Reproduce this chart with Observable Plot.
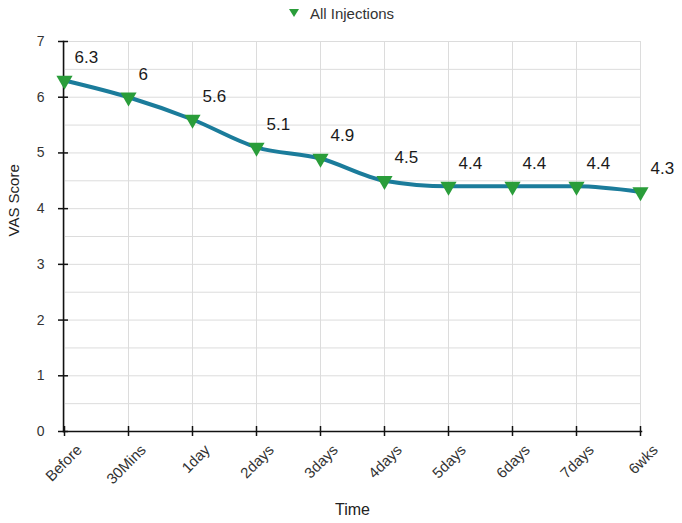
<!DOCTYPE html>
<html>
<head>
<meta charset="utf-8">
<script src="https://cdn.jsdelivr.net/npm/d3@7"></script>
<script src="https://cdn.jsdelivr.net/npm/@observablehq/plot@0.6"></script>
<style>
  body { margin: 0; background: #fff; font-family: "Liberation Sans", Arial, sans-serif; }
  #wrap { position: relative; width: 682px; height: 523px; }
  #legend { position: absolute; top: 4px; left: 0; width: 682px; text-align: center; font-size: 15px; color: #333; }
  #legend span { display: inline-flex; align-items: center; gap: 10px; }
</style>
</head>
<body>
<div id="wrap">
  <div id="legend"><span><svg width="12" height="10"><path d="M1,1 L11,1 L6,9 Z" fill="#2a9d3a"/></svg>All Injections</span></div>
  <div id="chart"></div>
</div>
<script>
const categories = ["Before", "30Mins", "1day", "2days", "3days", "4days", "5days", "6days", "7days", "6wks"];
const values = [6.3, 6.0, 5.6, 5.1, 4.9, 4.5, 4.4, 4.4, 4.4, 4.3];
const yTicks = [0, 1, 2, 3, 4, 5, 6, 7];
const yGrid = [0.5, 1, 1.5, 2, 2.5, 3, 3.5, 4, 4.5, 5, 5.5, 6, 6.5, 7];
const seriesName = "All Injections";

const data = categories.map((c, i) => ({time: c, score: values[i], series: seriesName}));

const chart = Plot.plot({
  width: 682,
  height: 523,
  marginLeft: 63,
  marginRight: 41,
  marginTop: 41,
  marginBottom: 92,
  style: {fontFamily: "Liberation Sans, Arial, sans-serif", fontSize: "14px", color: "#333", background: "#fff"},
  x: {type: "point", domain: categories, padding: 0},
  y: {domain: [0, 7]},
  marks: [
    Plot.gridY(yGrid, {stroke: "#dcdcdc", strokeOpacity: 1}),
    Plot.gridX(categories, {stroke: "#dcdcdc", strokeOpacity: 1}),
    Plot.frame({anchor: "left", stroke: "#111", strokeWidth: 1.5}),
    Plot.frame({anchor: "bottom", stroke: "#111", strokeWidth: 1.5}),
    Plot.axisY(yTicks, {tickSize: 5, tickPadding: 14, tickFormat: d3.format("d"), label: null, stroke: "#111", strokeWidth: 1.5, fontSize: 14, fill: "#333"}),
    Plot.axisY(yTicks, {tickSize: 5, text: null, label: null, dx: 5, stroke: "#111", strokeWidth: 1.5}),
    Plot.axisX(categories, {tickSize: 5, text: null, label: null, stroke: "#111", strokeWidth: 1.5}),
    Plot.axisX(categories, {tickSize: 5, text: null, label: null, dy: -5, stroke: "#111", strokeWidth: 1.5}),
    Plot.axisX(categories, {tickSize: 0, tickPadding: 10, tickRotate: -45, label: null, dx: 15, dy: 6, fontSize: 15, fill: "#333"}),
    Plot.text(["VAS Score"], {frameAnchor: "left", rotate: -90, dx: -49, fontSize: 15, fill: "#222"}),
    Plot.text(["Time"], {frameAnchor: "bottom", dy: 83, fontSize: 16, fill: "#222"}),
    Plot.line(data, {x: "time", y: "score", curve: "monotone-x", stroke: "#1b7c9b", strokeWidth: 4}),
    Plot.dot(data, {x: "time", y: "score", symbol: "triangle", rotate: 180, r: 6, fill: "#2a9d3a", stroke: "none"}),
    Plot.text(data, {x: "time", y: "score", text: d => String(d.score), textAnchor: "start", dx: 10, dy: -23, fontSize: 17, fill: "#1a1a1a"})
  ]
});
document.getElementById("chart").appendChild(chart);
</script>
</body>
</html>
